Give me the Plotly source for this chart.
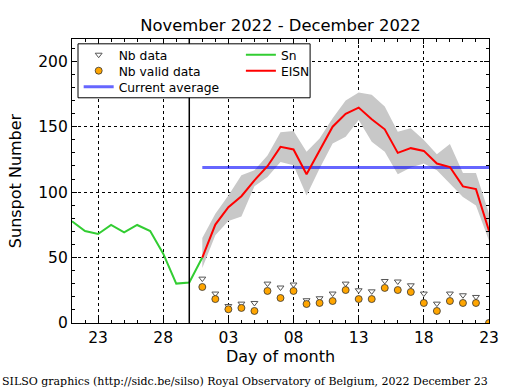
import plotly.graph_objects as go

# ---- data ----
sn_dates = ["2022-11-21", "2022-11-22", "2022-11-23", "2022-11-24", "2022-11-25",
            "2022-11-26", "2022-11-27", "2022-11-28", "2022-11-29", "2022-11-30",
            "2022-12-01"]
sn_values = [77.7, 70.3, 68.0, 74.9, 69.3, 74.9, 70.3, 53.0, 30.1, 31.0, 50.0]

dec_dates = ["2022-12-%02d" % d for d in range(1, 24)]
eisn_values = [50.0, 75.2, 88.5, 96.9, 109.0, 119.8, 134.6, 132.6, 113.6, 132.1,
               150.0, 159.8, 164.6, 155.7, 148.0, 130.0, 133.6, 131.5, 121.8,
               119.2, 104.4, 102.3, 70.5]
eisn_upper = [65.0, 83.4, 97.5, 112.8, 116.7, 128.0, 145.7, 146.7, 130.8, 141.0,
              156.4, 170.0, 176.2, 174.4, 165.4, 146.2, 148.8, 139.8, 129.0,
              136.7, 114.6, 114.6, 83.6]
eisn_lower = [42.0, 67.0, 78.0, 81.3, 104.4, 111.5, 123.0, 120.5, 97.5, 118.0,
              137.2, 142.3, 155.2, 138.5, 130.8, 113.6, 118.8, 121.8, 116.7,
              106.5, 96.2, 89.8, 62.8]

nb_dates = ["2022-12-%02d" % d for d in range(1, 23)]
nb_data = [33.9, 22.5, 13.0, 14.8, 15.3, 30.1, 27.1, 29.4, 17.4, 18.9, 22.5,
           30.1, 25.0, 24.2, 32.1, 31.7, 28.8, 22.5, 14.8, 22.5, 21.2, 19.9]

valid_dates = ["2022-12-%02d" % d for d in range(1, 24)]
nb_valid = [27.5, 18.3, 10.5, 11.5, 9.2, 24.5, 19.1, 24.5, 14.5, 15.3, 16.8,
            25.2, 18.3, 18.3, 26.8, 25.2, 23.7, 15.3, 9.2, 16.8, 15.3, 15.3, 0.0]

avg_dates = ["2022-12-01", "2022-12-23"]
avg_values = [118.8, 118.8]

separator_date = "2022-11-30"
x_range = ["2022-11-21", "2022-12-23"]
y_range = [0, 217]

title_text = "November 2022 - December 2022"
footer_text = "SILSO graphics (http://sidc.be/silso) Royal Observatory of Belgium, 2022 December 23"

FONT = "DejaVu Sans"

fig = go.Figure()

# grey uncertainty band
fig.add_trace(go.Scatter(x=dec_dates, y=eisn_lower, mode="lines",
                         line=dict(width=0, color="rgba(0,0,0,0)"),
                         showlegend=False, hoverinfo="skip"))
fig.add_trace(go.Scatter(x=dec_dates, y=eisn_upper, mode="lines",
                         line=dict(width=0, color="rgba(0,0,0,0)"),
                         fill="tonexty", fillcolor="rgb(200,200,200)",
                         showlegend=False, hoverinfo="skip"))

fig.add_trace(go.Scatter(x=avg_dates, y=avg_values, mode="lines",
                         name="Current average",
                         line=dict(color="rgba(0,0,255,0.6)", width=3),
                         legend="legend3"))
fig.add_trace(go.Scatter(x=sn_dates, y=sn_values, mode="lines", name="Sn",
                         line=dict(color="#32CD32", width=2),
                         legend="legend4"))
fig.add_trace(go.Scatter(x=dec_dates, y=eisn_values, mode="lines", name="EISN",
                         line=dict(color="red", width=2),
                         legend="legend5"))
fig.add_trace(go.Scatter(x=nb_dates, y=nb_data, mode="markers", name="Nb data",
                         marker=dict(symbol="triangle-down", size=6,
                                     color="white",
                                     line=dict(color="#555555", width=1)),
                         legend="legend"))
fig.add_trace(go.Scatter(x=valid_dates, y=nb_valid, mode="markers",
                         name="Nb valid data",
                         marker=dict(symbol="circle", size=7, color="#FFA500",
                                     line=dict(color="#333333", width=0.8)),
                         legend="legend2"))

# separator line between the two months
fig.add_shape(type="line", xref="x", yref="paper", x0=separator_date,
              x1=separator_date, y0=0, y1=1,
              line=dict(color="black", width=1.5))

# legend frame
fig.add_shape(type="rect", xref="paper", yref="paper", x0=0.0144, x1=0.571,
              y0=0.793, y1=0.983, layer="above",
              fillcolor="white", line=dict(color="black", width=1))

fig.add_annotation(text=footer_text, xref="paper", yref="paper",
                   x=-0.1727, y=-0.2067, xanchor="left", yanchor="middle",
                   showarrow=False,
                   font=dict(family="DejaVu Serif", size=11, color="black"))

axis_common = dict(showline=True, linecolor="black", linewidth=1.3,
                   mirror="ticks", ticks="inside", ticklen=5, tickwidth=1,
                   tickcolor="black", showgrid=True, gridcolor="black",
                   gridwidth=1, griddash="dot", zeroline=False,
                   automargin=False,
                   tickfont=dict(family=FONT, size=15.5, color="black"))

fig.update_xaxes(type="date", range=x_range, tick0="2022-11-23",
                 dtick=5 * 86400000, tickformat="%d",
                 minor=dict(dtick=86400000, ticks="inside", ticklen=3,
                            tickcolor="black", showgrid=False),
                 title=dict(text="Day of month", standoff=4,
                            font=dict(family=FONT, size=16, color="black")),
                 **axis_common)
fig.update_yaxes(range=y_range, dtick=50, tick0=0,
                 minor=dict(dtick=10, ticks="inside", ticklen=3,
                            tickcolor="black", showgrid=False),
                 title=dict(text="Sunspot Number", standoff=12,
                            font=dict(family=FONT, size=16, color="black")),
                 **axis_common)

legend_common = dict(bgcolor="rgba(0,0,0,0)", borderwidth=0,
                     font=dict(family=FONT, size=12.3, color="black"),
                     xref="paper", yref="paper", yanchor="middle",
                     xanchor="left", orientation="v")

row_y = [0.9447, 0.8884, 0.832]
col_x = [0.016, 0.405]

fig.update_layout(
    width=515, height=390,
    margin=dict(l=72, r=26, t=39, b=67, autoexpand=False),
    paper_bgcolor="white", plot_bgcolor="white",
    font=dict(family=FONT, color="black"),
    title=dict(text=title_text, x=0.5, xref="paper", y=1 - 25 / 390,
               yanchor="middle", xanchor="center",
               font=dict(family=FONT, size=16.4, color="black")),
    showlegend=True,
    legend=dict(x=col_x[0], y=row_y[0], **legend_common),
    legend2=dict(x=col_x[0], y=row_y[1], **legend_common),
    legend3=dict(x=col_x[0], y=row_y[2], **legend_common),
    legend4=dict(x=col_x[1], y=row_y[0], **legend_common),
    legend5=dict(x=col_x[1], y=row_y[1], **legend_common),
)

fig.write_html("out.html",
               config={"displayModeBar": False},
               post_script="document.body.style.margin='0';")
